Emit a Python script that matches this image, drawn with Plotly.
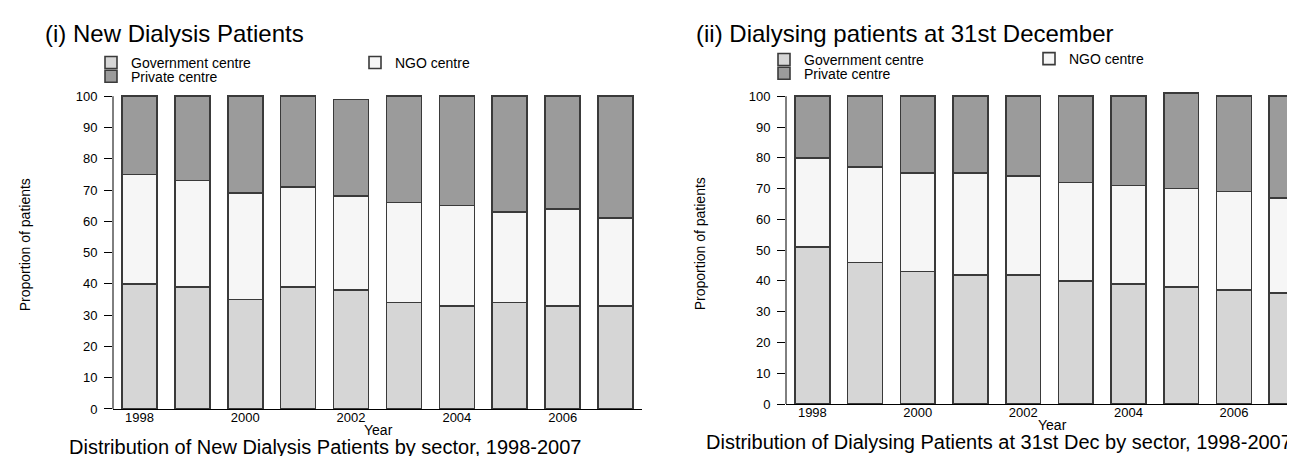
import plotly.graph_objects as go

years = [1998, 1999, 2000, 2001, 2002, 2003, 2004, 2005, 2006, 2007]
tick_years = [1998, 2000, 2002, 2004, 2006]
y_ticks = [0, 10, 20, 30, 40, 50, 60, 70, 80, 90, 100]

# (i) New dialysis patients (%)
new_gov = [40, 39, 35, 39, 38, 34, 33, 34, 33, 33]
new_ngo = [35, 34, 34, 32, 30, 32, 32, 29, 31, 28]
new_pvt = [25, 27, 31, 29, 31, 34, 35, 37, 36, 39]

# (ii) Dialysing patients at 31st December (%)
dec_gov = [51, 46, 43, 42, 42, 40, 39, 38, 37, 36]
dec_ngo = [29, 31, 32, 33, 32, 32, 32, 32, 32, 31]
dec_pvt = [20, 23, 25, 25, 26, 28, 29, 31, 31, 33]

series_names = ["Government centre", "NGO centre", "Private centre"]
colors = ["#d6d6d6", "#f6f6f6", "#9b9b9b"]

FONT = "Liberation Sans, Arial, sans-serif"
W, H = 1295, 456

fig = go.Figure()

panels = [
    (("x", "y"), [new_gov, new_ngo, new_pvt], ["legend", "legend2", "legend3"]),
    (("x2", "y2"), [dec_gov, dec_ngo, dec_pvt], ["legend4", "legend5", "legend6"]),
]
for (xa, ya), vals, legs in panels:
    for name, v, c, lg in zip(series_names, vals, colors, legs):
        fig.add_trace(go.Bar(
            x=years, y=v, name=name, xaxis=xa, yaxis=ya, legend=lg,
            width=0.66,
            marker=dict(color=c, line=dict(color="#3a3a3a", width=1.6)),
            showlegend=True,
        ))

def px_x(p):
    return p / W

def px_y(p):
    return 1 - p / H

axis_common = dict(
    tickfont=dict(family=FONT, size=13, color="#000"),
    showgrid=False, zeroline=False,
)

fig.update_layout(
    width=W, height=H,
    margin=dict(l=0, r=0, t=0, b=0),
    paper_bgcolor="white", plot_bgcolor="white",
    barmode="stack",
    font=dict(family=FONT, color="#000"),
    xaxis=dict(domain=[px_x(105), px_x(634)], range=[1997.5, 2007.5],
               tickvals=tick_years, ticks="", showline=True, linecolor="#000",
               linewidth=1, anchor="y", ticklabelstandoff=-4, **axis_common),
    yaxis=dict(domain=[px_y(408), px_y(82.6)], range=[0, 102],
               tickvals=y_ticks, ticks="outside", ticklen=8, tickcolor="#000",
               showline=False, anchor="x", ticklabelstandoff=4, **axis_common),
    xaxis2=dict(domain=[px_x(778), 1.0], range=[1997.5, 2007.31],
                tickvals=tick_years, ticks="", showline=True, linecolor="#000",
                linewidth=1, anchor="y2", ticklabelstandoff=-4, **axis_common),
    yaxis2=dict(domain=[px_y(403), px_y(82.7)], range=[0, 102],
                tickvals=y_ticks, ticks="outside", ticklen=8, tickcolor="#000",
                showline=False, anchor="x2", ticklabelstandoff=4, **axis_common),
)

leg_font = dict(family=FONT, size=14, color="#000")
leg_pos = {
    "legend": (83, 55), "legend2": (347, 55), "legend3": (83, 69),
    "legend4": (756, 52), "legend5": (1021, 51), "legend6": (756, 66),
}
for k, (lx, ly) in leg_pos.items():
    fig.update_layout({k: dict(x=px_x(lx), y=px_y(ly), xanchor="left", yanchor="middle",
                               xref="paper", yref="paper",
                               bgcolor="rgba(0,0,0,0)", borderwidth=0,
                               font=leg_font, itemclick=False, itemdoubleclick=False)})

# y-axis lines from 0 to 100
for xr, yr in (("x domain", "y"), ("x2 domain", "y2")):
    fig.add_shape(type="line", xref=xr, yref=yr, x0=0, x1=0, y0=0, y1=100,
                  line=dict(color="#000", width=1))

ann = []
def add_text(text, x, y, size, xanchor="left", angle=0):
    ann.append(dict(text=text, x=px_x(x), y=px_y(y), xref="paper", yref="paper",
                    xanchor=xanchor, yanchor="middle", showarrow=False,
                    textangle=angle, font=dict(family=FONT, size=size, color="#000")))

add_text("(i) New Dialysis Patients", 35, 25, 24)
add_text("(ii) Dialysing patients at 31st December", 686, 25, 24)
add_text("Proportion of patients", 17, 241, 14, xanchor="center", angle=-90)
add_text("Proportion of patients", 692, 240, 14, xanchor="center", angle=-90)
add_text("Year", 370, 429, 14, xanchor="center")
add_text("Year", 1044, 424, 14, xanchor="center")
add_text("Distribution of New Dialysis Patients by sector, 1998-2007", 59, 447, 20)
add_text("Distribution of Dialysing Patients at 31st Dec by sector, 1998-2007", 696, 442, 20)
fig.update_layout(annotations=ann)

fig.write_html("out.html")
